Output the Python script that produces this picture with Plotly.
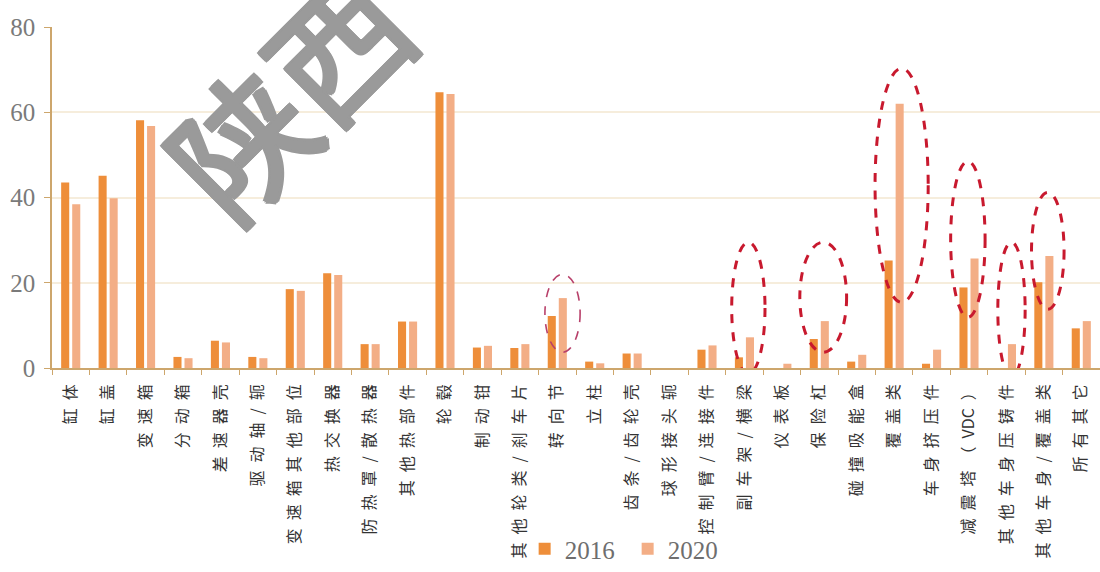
import re
import plotly.graph_objects as go

# Categories of cast aluminium parts
categories = [
    "缸体", "缸盖", "变速箱", "分动箱", "差速器壳", "驱动轴/轭", "变速箱其他部位",
    "热交换器", "防热罩/散热器", "其他热部件", "轮毂", "制动钳", "其他轮类/刹车片",
    "转向节", "立柱", "齿条/齿轮壳", "球形接头轭", "控制臂/连接件", "副车架/横梁",
    "仪表板", "保险杠", "碰撞吸能盒", "覆盖类", "车身挤压件", "减震塔（VDC）",
    "其他车身压铸件", "其他车身/覆盖类", "所有其它",
]
values_2016 = [43.5, 45.1, 58.1, 2.6, 6.4, 2.6, 18.5, 22.2, 5.6, 10.9, 64.7, 4.8,
               4.7, 12.2, 1.5, 3.4, 0.0, 4.3, 2.5, 0.0, 6.8, 1.5, 25.2, 1.0, 18.9,
               0.0, 20.1, 9.3]
values_2020 = [38.4, 39.8, 56.8, 2.3, 6.0, 2.3, 18.1, 21.8, 5.6, 10.9, 64.3, 5.2,
               5.6, 16.4, 1.1, 3.4, 0.0, 5.3, 7.2, 1.0, 11.0, 3.1, 62.0, 4.3, 25.7,
               5.6, 26.3, 11.0]
series_names = ["2016", "2020"]
y_ticks = [0, 20, 40, 60, 80]

# Categories circled with dashed outlines: (category, left, right, bottom, top)
highlights = [
    ("转向节", -0.33, 0.61, 3.7, 22.0),
    ("副车架/横梁", -0.34, 0.55, -1.4, 29.5),
    ("保险杠", -0.52, 0.73, 3.7, 29.5),
    ("覆盖类", -0.51, 0.91, 15.4, 70.3),
    ("减震塔（VDC）", -0.49, 0.43, 11.9, 48.5),
    ("其他车身压铸件", -0.23, 0.50, -2.2, 29.5),
    ("其他车身/覆盖类", -0.33, 0.54, 13.8, 41.2),
]

COLOR_2016 = "#EE8E3A"
COLOR_2020 = "#F3AE86"
AXIS_COLOR = "#CDA66C"
GRID_COLOR = "#F6EDDC"
MARK_GREY = "#9A9A9A"


def spaced(label):
    """Letter-space the label, keeping runs of Latin letters together."""
    parts = re.findall(r"[A-Za-z0-9]+|.", label)
    return "\u2002".join(parts)


tick_text = [spaced(c) for c in categories]

fig = go.Figure()
fig.add_trace(go.Bar(x=categories, y=values_2016, name=series_names[0],
                     marker=dict(color=COLOR_2016, line=dict(width=0))))
fig.add_trace(go.Bar(x=categories, y=values_2020, name=series_names[1],
                     marker=dict(color=COLOR_2020, line=dict(width=0))))

for cat, left, right, bottom, top in highlights:
    i = categories.index(cat)
    thin = cat == "转向节"
    fig.add_shape(
        type="circle", xref="x", yref="y",
        x0=i + left, x1=i + right, y0=bottom, y1=top,
        line=dict(color="#B8406A" if thin else "#C8192E",
                  width=1.6 if thin else 3, dash="dash"),
        layer="above",
    )

# Diagonal watermark, strokes thickened with a tight outline shadow
outline = ", ".join(f"{dx}px {dy}px 0 {MARK_GREY}"
                    for dx, dy in [(2, 0), (-2, 0), (0, 2), (0, -2),
                                   (2, 2), (-2, -2), (2, -2), (-2, 2)])
fig.add_annotation(
    text="陕西", xref="paper", yref="paper", x=0.223, y=0.812,
    xanchor="center", yanchor="middle", showarrow=False, textangle=-45,
    font=dict(family="Noto Sans CJK SC", size=136, color=MARK_GREY,
              weight=400, shadow=outline),
)

fig.update_layout(
    width=1100, height=572,
    margin=dict(l=52, r=0, t=27, b=203),
    paper_bgcolor="white", plot_bgcolor="white",
    barmode="group", bargap=0.41, bargroupgap=0.27,
    showlegend=True,
    legend=dict(orientation="h", x=0.451, y=-0.53, xanchor="left",
                yanchor="middle", bgcolor="rgba(0,0,0,0)",
                font=dict(family="Liberation Serif", size=25, color="#6E6E6E"),
                itemwidth=30, entrywidth=58, traceorder="normal"),
    xaxis=dict(
        type="category", categoryorder="array", categoryarray=categories,
        tickmode="array", tickvals=categories, ticktext=tick_text,
        tickangle=-90, tickson="boundaries", ticks="outside", ticklen=5,
        tickcolor=AXIS_COLOR, showline=True, linecolor=AXIS_COLOR, linewidth=1.5,
        showgrid=False, ticklabelstandoff=8,
        tickfont=dict(family="Noto Sans CJK SC", size=16, color="#333333"),
    ),
    yaxis=dict(
        range=[0, 80], tickvals=y_ticks, ticks="outside", ticklen=6,
        tickcolor=AXIS_COLOR, showline=True, linecolor=AXIS_COLOR, linewidth=1.5,
        gridcolor=GRID_COLOR, gridwidth=1.5, zeroline=False, ticklabelstandoff=4,
        tickfont=dict(family="Liberation Serif", size=25, color="#7A7A7A"),
    ),
)

fig.write_html("out.html")
